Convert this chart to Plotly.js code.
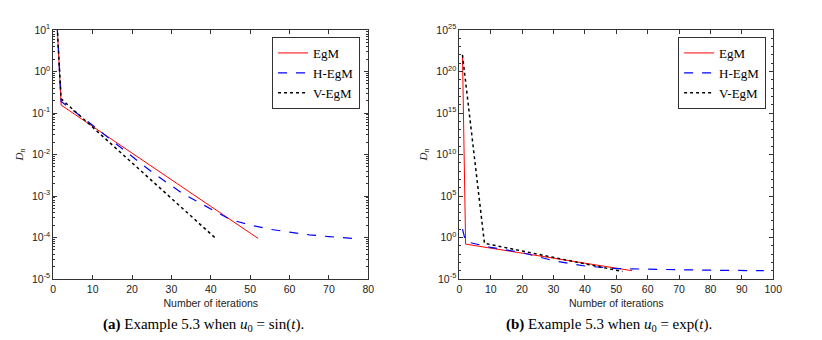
<!DOCTYPE html>
<html>
<head>
<meta charset="utf-8">
<script src="https://cdn.plot.ly/plotly-3.0.1.min.js"></script>
<style>
  html, body { margin: 0; padding: 0; background: #fff; }
  #chart { width: 822px; height: 340px; }
</style>
</head>
<body>
<div id="chart"></div>
<script>
// (a) u0 = sin(t)
var egmSinX = [1, 2, 52];
var egmSinY = [12, 0.155, 9.5e-5];
var hegmSinX = [1, 2, 9, 17, 25, 33, 41, 45, 50, 55, 60, 65, 70, 76];
var hegmSinY = [12, 0.19, 0.06, 0.0151, 0.0038, 0.00112, 0.00044, 0.00027, 0.0002, 0.000158, 0.000135, 0.000116, 0.000105, 0.000095];
var vegmSinX = [1, 2, 41];
var vegmSinY = [12, 0.22, 1.0e-4];

// (b) u0 = exp(t)
var egmExpX = [1, 2, 55];
var egmExpY = [1e22, 0.16, 1.0e-4];
var hegmExpX = [1, 2, 10, 20, 30, 40, 50, 55, 70, 85, 97];
var hegmExpY = [10, 0.32, 0.066, 0.015, 0.0016, 0.00037, 0.00018, 0.00016, 0.00013, 0.00011, 0.0001];
var vegmExpX = [1, 8, 52];
var vegmExpY = [1e22, 0.2, 0.8e-4];

var sinTickExp = [-5, -4, -3, -2, -1, 0, 1];
var expTickExp = [-5, 0, 5, 10, 15, 20, 25];

function powLabels(exps) {
  return exps.map(function(e) { return '10<sup>' + e + '</sup>'; });
}
function powVals(exps) {
  return exps.map(function(e) { return Math.pow(10, e); });
}

var sansFont = 'Liberation Sans, Arial, sans-serif';
var serifFont = 'Liberation Serif, Times New Roman, serif';

function line(x, y, name, color, dash, width, xa, ya, leg) {
  return {
    x: x, y: y, name: name, type: 'scatter', mode: 'lines',
    line: {color: color, dash: dash, width: width},
    xaxis: xa, yaxis: ya, legend: leg
  };
}

var data = [
  line(egmSinX, egmSinY, 'EgM', '#ff0000', 'solid', 1, 'x', 'y', 'legend'),
  line(hegmSinX, hegmSinY, 'H-EgM', '#0000ff', 'dash', 1.2, 'x', 'y', 'legend'),
  line(vegmSinX, vegmSinY, 'V-EgM', '#000000', 'dot', 1.5, 'x', 'y', 'legend'),
  line(egmExpX, egmExpY, 'EgM', '#ff0000', 'solid', 1, 'x2', 'y2', 'legend2'),
  line(hegmExpX, hegmExpY, 'H-EgM', '#0000ff', 'dash', 1.2, 'x2', 'y2', 'legend2'),
  line(vegmExpX, vegmExpY, 'V-EgM', '#000000', 'dot', 1.5, 'x2', 'y2', 'legend2')
];

var axisBase = {
  showline: true, mirror: 'ticks', linecolor: '#333', linewidth: 1,
  ticks: 'inside', ticklen: 4, tickcolor: '#333',
  showgrid: false, zeroline: false,
  tickfont: {family: sansFont, size: 10.5, color: '#222'},
  automargin: false
};

function xax(domain, range, anchor) {
  return Object.assign({}, axisBase, {
    domain: domain, range: range, dtick: 10, anchor: anchor,
    title: {text: 'Number of iterations', font: {family: sansFont, size: 10.5, color: '#222'}, standoff: 6}
  });
}

function yax(exps, minorDtick, anchor) {
  return Object.assign({}, axisBase, {
    type: 'log', range: [exps[0], exps[exps.length - 1]], anchor: anchor,
    tickmode: 'array', tickvals: powVals(exps), ticktext: powLabels(exps),
    minor: {ticks: 'inside', ticklen: 2, tickcolor: '#333', dtick: minorDtick},
    title: {text: '<i>D<sub>n</sub></i>', font: {family: serifFont, size: 11, color: '#222'}, standoff: 6}
  });
}

var legendBase = {
  xref: 'paper', yref: 'paper', xanchor: 'right', yanchor: 'top', y: 0.972,
  bgcolor: '#fff', bordercolor: '#333', borderwidth: 1,
  font: {family: serifFont, size: 13, color: '#000'},
  tracegroupgap: 0
};

var captionFont = {family: serifFont, size: 15, color: '#000'};

var layout = {
  width: 822, height: 340,
  margin: {l: 0, r: 0, t: 30, b: 61},
  paper_bgcolor: '#fff', plot_bgcolor: '#fff',
  showlegend: true,
  xaxis: xax([0.0648, 0.4481], [0, 80], 'y'),
  yaxis: yax(sinTickExp, 'D1', 'x'),
  xaxis2: xax([0.5588, 0.9407], [0, 100], 'y2'),
  yaxis2: yax(expTickExp, 1, 'x2'),
  legend: Object.assign({}, legendBase, {x: 0.438}),
  legend2: Object.assign({}, legendBase, {x: 0.932}),
  annotations: [
    {text: '<b>(a)</b> Example 5.3 when <i>u</i><sub>0</sub> = sin(<i>t</i>).',
     xref: 'paper', yref: 'paper', x: 0.247, y: -0.185, xanchor: 'center', yanchor: 'middle',
     showarrow: false, font: captionFont},
    {text: '<b>(b)</b> Example 5.3 when <i>u</i><sub>0</sub> = exp(<i>t</i>).',
     xref: 'paper', yref: 'paper', x: 0.741, y: -0.185, xanchor: 'center', yanchor: 'middle',
     showarrow: false, font: captionFont}
  ]
};

Plotly.newPlot('chart', data, layout, {displayModeBar: false, staticPlot: true});
</script>
</body>
</html>
